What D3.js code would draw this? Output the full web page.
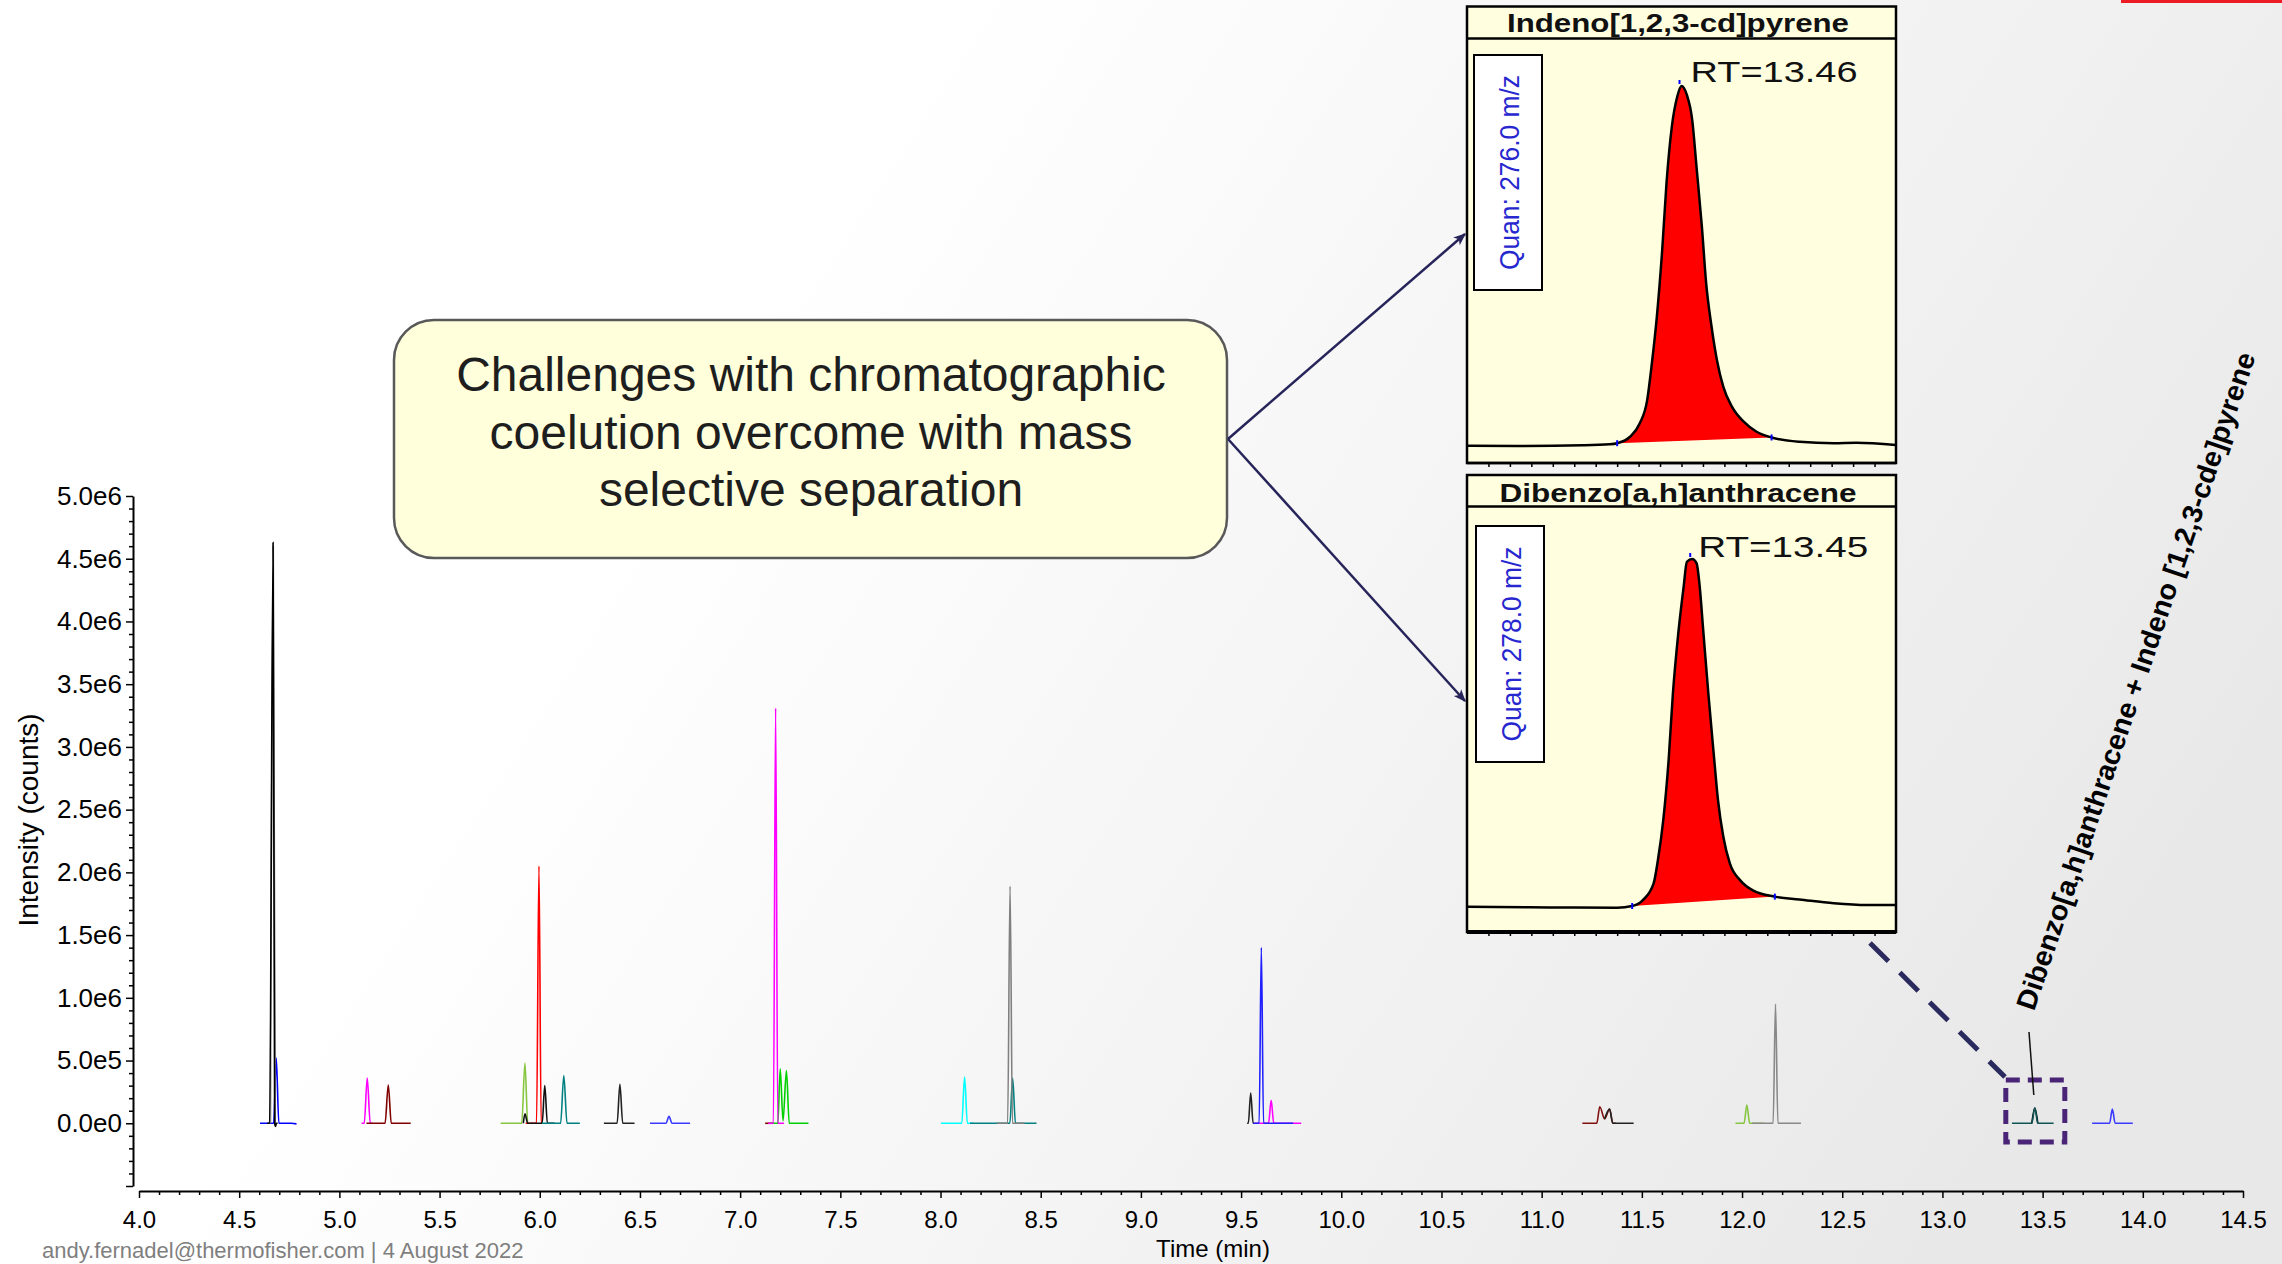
<!DOCTYPE html>
<html>
<head>
<meta charset="utf-8">
<script src="https://cdn.jsdelivr.net/npm/d3@7"></script>
<style>
  html, body { margin: 0; padding: 0; background: #fff; }
  svg { display: block; }
  text { font-family: "Liberation Sans", Arial, sans-serif; }
</style>
</head>
<body>
<script>
// ---- axis ticks ----
var xMajorTicks = [4.0, 4.5, 5.0, 5.5, 6.0, 6.5, 7.0, 7.5, 8.0, 8.5, 9.0, 9.5, 10.0, 10.5, 11.0, 11.5, 12.0, 12.5, 13.0, 13.5, 14.0, 14.5];
var yMajorTicks = [-0.5e6, 0, 0.5e6, 1.0e6, 1.5e6, 2.0e6, 2.5e6, 3.0e6, 3.5e6, 4.0e6, 4.5e6, 5.0e6];

// ---- main chromatogram traces: [time (min), intensity (counts)] ----
var blackA   = [[4.640, 0], [4.652, 0], [4.669, 4.63e6], [4.677, 0], [4.681, -2.5e4], [4.686, 0], [4.692, 0]];
var grayA    = [[4.656, 0], [4.670, 4.60e6], [4.680, 0]];
var blueA    = [[4.604, 0], [4.672, 0], [4.685, 5.2e5], [4.698, 0], [4.760, 0], [4.786, -5e3]];
var magentaA = [[5.111, 0], [5.124, 0], [5.139, 3.6e5], [5.154, 0], [5.165, 0]];
var darkredA = [[5.135, 0], [5.228, 0], [5.244, 3.05e5], [5.259, 0], [5.356, 0]];
var limeA    = [[5.805, 0], [5.910, 0], [5.926, 4.8e5], [5.940, 0], [5.945, 0]];
var blackB   = [[5.918, 0], [5.926, 7.5e4], [5.940, 0], [6.012, 0], [6.025, 3.0e5], [6.038, 0], [6.074, 0]];
var redA     = [[5.930, 0], [5.984, 0], [5.996, 2.05e6], [6.007, 0], [6.011, 0]];
var tealA    = [[6.011, 0], [6.104, 0], [6.120, 3.8e5], [6.136, 0], [6.200, 0]];
var blackC   = [[6.320, 0], [6.386, 0], [6.400, 3.1e5], [6.414, 0], [6.473, 0]];
var blueB    = [[6.550, 0], [6.630, 0], [6.645, 5.5e4], [6.660, 0], [6.750, 0]];
var darkredB = [[7.125, 0], [7.165, 0]];
var magentaB = [[7.140, 0], [7.166, 0], [7.177, 3.31e6], [7.188, 0], [7.219, 0]];
var greenA   = [[7.150, 0], [7.188, 0], [7.200, 4.35e5], [7.214, 2e4], [7.231, 4.2e5], [7.245, 0], [7.341, 0]];
var cyanA    = [[8.002, 0], [8.106, 0], [8.120, 3.68e5], [8.134, 0], [8.164, 0]];
var tealB    = [[8.147, 0], [8.346, 0], [8.360, 3.58e5], [8.374, 0], [8.479, 0]];
var grayB    = [[8.280, 0], [8.335, 0], [8.347, 1.89e6], [8.359, 0], [8.420, 0]];
var blackD   = [[9.530, 0], [9.536, 0], [9.548, 2.4e5], [9.560, 0], [9.566, 0]];
var blueC    = [[9.560, 0], [9.590, 0], [9.601, 1.40e6], [9.612, 0], [9.760, 0]];
var magentaC = [[9.570, 0], [9.637, 0], [9.650, 1.84e5], [9.663, 0], [9.800, 0]];
var darkredC = [[11.203, 0], [11.275, 0], [11.290, 1.32e5], [11.314, 3.5e4], [11.339, 1.13e5], [11.355, 0], [11.370, 0]];
var blackE   = [[11.314, 3.5e4], [11.339, 1.13e5], [11.355, 0], [11.459, 0]];
var limeB    = [[11.967, 0], [12.010, 0], [12.024, 1.45e5], [12.038, 0], [12.110, 0]];
var grayC    = [[12.050, 0], [12.155, 0], [12.167, 9.5e5], [12.179, 0], [12.294, 0]];
var slateA   = [[13.347, 0], [13.446, 0], [13.461, 1.21e5], [13.476, 0], [13.555, 0]];
var blackF   = [[13.446, 0], [13.461, 1.21e5], [13.476, 0]];
var blueD    = [[13.747, 0], [13.834, 0], [13.848, 1.13e5], [13.862, 0], [13.950, 0]];

// ---- inset traces: [time (min), relative abundance (%)] ----
var indenoTrace = [[13.260, -0.2], [13.306, -0.3], [13.368, -0.1], [13.393, 0.2], [13.400, 0.5], [13.412, 2.3], [13.421, 6.0],
  [13.428, 12.5], [13.432, 21.8], [13.437, 35.7], [13.442, 54.3], [13.446, 72.9], [13.451, 88.7], [13.456, 97.0], [13.460, 100],
  [13.465, 97.5], [13.470, 90.5], [13.474, 77.5], [13.479, 60.8], [13.483, 45.0], [13.488, 33.0], [13.493, 23.7], [13.499, 16.2],
  [13.507, 10.7], [13.518, 6.5], [13.530, 3.7], [13.544, 2.1], [13.570, 0.9], [13.602, 0.5], [13.623, 0.6], [13.660, 0]];
var indenoLimits = [13.400, 13.544];
var dibenzoTrace = [[13.240, 0], [13.317, -0.2], [13.380, -0.3], [13.394, 0.2], [13.404, 1.9], [13.414, 6.7], [13.418, 13.4],
  [13.423, 24.9], [13.428, 42.2], [13.432, 61.4], [13.437, 78.6], [13.442, 92.0], [13.445, 99.2], [13.450, 100], [13.454, 98.8],
  [13.457, 92.0], [13.460, 80.5], [13.465, 61.4], [13.470, 44.1], [13.474, 30.7], [13.479, 20.1], [13.485, 12.5], [13.495, 7.5],
  [13.507, 4.6], [13.527, 2.9], [13.550, 2.1], [13.582, 1.0], [13.613, 0.5], [13.640, 0.5]];
var dibenzoLimits = [13.394, 13.527];

var traces = [
  { d: blueA, c: '#0000ff' }, { d: grayA, c: '#7f7f7f' }, { d: blackA, c: '#000000' },
  { d: magentaA, c: '#ff00ff' }, { d: darkredA, c: '#800000' },
  { d: limeA, c: '#86c640' }, { d: redA, c: '#ff0000' }, { d: blackB, c: '#111111' },
  { d: tealA, c: '#008080' }, { d: blackC, c: '#222222' }, { d: blueB, c: '#3b3bff' },
  { d: darkredB, c: '#800000' }, { d: greenA, c: '#00d000' }, { d: magentaB, c: '#ff00ff' },
  { d: cyanA, c: '#00ffff' }, { d: tealB, c: '#008080' }, { d: grayB, c: '#808080' },
  { d: blackD, c: '#222222' }, { d: magentaC, c: '#ff00ff' }, { d: blueC, c: '#2020ff' },
  { d: darkredC, c: '#801010' }, { d: blackE, c: '#222222' },
  { d: limeB, c: '#86c640' }, { d: grayC, c: '#888888' },
  { d: blackF, c: '#000000' }, { d: slateA, c: '#0f5555' }, { d: blueD, c: '#3b3bff' }
];

var W = 2282, H = 1264;
var svg = d3.select('body').append('svg').attr('width', W).attr('height', H);
var defs = svg.append('defs');

var grad = defs.append('linearGradient').attr('id', 'bg')
  .attr('x1', 0.3).attr('y1', 0.35).attr('x2', 1).attr('y2', 0.6);
grad.append('stop').attr('offset', 0).attr('stop-color', '#ffffff');
grad.append('stop').attr('offset', 1).attr('stop-color', '#e8e8e8');
svg.append('rect').attr('width', W).attr('height', H).attr('fill', 'url(#bg)');

defs.append('marker').attr('id', 'arrow').attr('viewBox', '0 0 10 10')
  .attr('refX', 9).attr('refY', 5).attr('markerWidth', 5).attr('markerHeight', 5)
  .attr('markerUnits', 'strokeWidth').attr('orient', 'auto')
  .append('path').attr('d', 'M0,1 L10,5 L0,9 L2.5,5 Z').attr('fill', '#27245a');

// red bar at top right
svg.append('rect').attr('x', 2121).attr('y', 0).attr('width', 161).attr('height', 3).attr('fill', '#ed1c24');

// ---- main chart ----
var x = d3.scaleLinear().domain([4.0, 14.5]).range([139, 2243]);
var y = d3.scaleLinear().domain([-0.5e6, 5.0e6]).range([1186, 496]);

var yFmt = function (d) { return d < 0 ? '' : d3.format('.1e')(d).replace('+', ''); };

var yMinor = d3.range(-5, 51).map(function (k) { return k * 1e5; })
  .filter(function (v) { return yMajorTicks.indexOf(v) < 0; });
var xMinor = d3.range(40, 146).map(function (k) { return k / 10; })
  .filter(function (v) { return Math.abs(v * 2 - Math.round(v * 2)) > 1e-6; });

var yAx = svg.append('g').attr('transform', 'translate(133,0)')
  .call(d3.axisLeft(y).tickValues(yMajorTicks).tickFormat(yFmt).tickSize(7).tickSizeOuter(0).tickPadding(4));
svg.append('g').attr('transform', 'translate(133,0)')
  .call(d3.axisLeft(y).tickValues(yMinor).tickFormat('').tickSize(4).tickSizeOuter(0))
  .select('.domain').remove();
yAx.selectAll('text').attr('font-size', 26).attr('fill', '#000');
yAx.select('.domain').attr('stroke-width', 2);

var xAx = svg.append('g').attr('transform', 'translate(0,1191)')
  .call(d3.axisBottom(x).tickValues(xMajorTicks).tickFormat(d3.format('.1f')).tickSize(7).tickSizeOuter(0).tickPadding(13));
svg.append('g').attr('transform', 'translate(0,1191)')
  .call(d3.axisBottom(x).tickValues(xMinor).tickFormat('').tickSize(4).tickSizeOuter(0))
  .select('.domain').remove();
xAx.selectAll('text').attr('font-size', 24).attr('fill', '#000');
xAx.select('.domain').attr('stroke-width', 2);
svg.selectAll('.tick line').attr('stroke-width', 1.5);

svg.append('text').attr('transform', 'translate(38,820) rotate(-90)')
  .attr('text-anchor', 'middle').attr('font-size', 28).text('Intensity (counts)');
svg.append('text').attr('x', 1213).attr('y', 1257)
  .attr('text-anchor', 'middle').attr('font-size', 24).text('Time (min)');

var line = d3.line().x(function (d) { return x(d[0]); }).y(function (d) { return y(d[1]); })
  .curve(d3.curveMonotoneX);
svg.append('g').selectAll('path').data(traces).enter().append('path')
  .attr('d', function (t) { return line(t.d); })
  .attr('fill', 'none').attr('stroke', function (t) { return t.c; })
  .attr('stroke-width', 1.6).attr('stroke-linejoin', 'round');

// footer
svg.append('text').attr('x', 42).attr('y', 1258).attr('font-size', 22).attr('fill', '#7f7f7f')
  .text('andy.fernadel@thermofisher.com | 4 August 2022');

// ---- callout ----
svg.append('rect').attr('x', 394).attr('y', 320).attr('width', 833).attr('height', 238)
  .attr('rx', 40).attr('ry', 40).attr('fill', '#ffffdc').attr('stroke', '#595959').attr('stroke-width', 2.5);
var callLines = ['Challenges with chromatographic', 'coelution overcome with mass', 'selective separation'];
svg.append('g').selectAll('text').data(callLines).enter().append('text')
  .attr('x', 811).attr('y', function (d, i) { return 391 + i * 57.5; })
  .attr('text-anchor', 'middle').attr('font-size', 48).attr('fill', '#1e1e1e').text(function (d) { return d; });

svg.append('line').attr('x1', 1228).attr('y1', 439).attr('x2', 1465).attr('y2', 234)
  .attr('stroke', '#27245a').attr('stroke-width', 2.5).attr('marker-end', 'url(#arrow)');
svg.append('line').attr('x1', 1228).attr('y1', 439).attr('x2', 1465).attr('y2', 701)
  .attr('stroke', '#27245a').attr('stroke-width', 2.5).attr('marker-end', 'url(#arrow)');

// ---- inset panels ----
function drawPanel(p) {
  var g = svg.append('g');
  var px = d3.scaleLinear().domain(p.domain).range([1467, 1896]);
  var py = d3.scaleLinear().domain([0, 100]).range([p.base, p.apex]);
  var top = p.top, bottom = p.bottom;

  g.append('rect').attr('x', 1467).attr('y', top).attr('width', 429).attr('height', bottom - top)
    .attr('fill', '#ffffe0');
  var clipId = 'clip' + p.id;
  defs.append('clipPath').attr('id', clipId).append('rect')
    .attr('x', 1467).attr('y', p.titleLine).attr('width', 429).attr('height', bottom - p.titleLine);

  var pl = d3.line().x(function (d) { return px(d[0]); }).y(function (d) { return py(d[1]); })
    .curve(d3.curveMonotoneX);
  var inside = p.trace.filter(function (d) { return d[0] >= p.limits[0] && d[0] <= p.limits[1]; });
  var cg = g.append('g').attr('clip-path', 'url(#' + clipId + ')');
  cg.append('path').attr('d', pl(inside) + 'Z').attr('fill', '#ff0000');
  cg.append('path').attr('d', pl(p.trace)).attr('fill', 'none').attr('stroke', '#000').attr('stroke-width', 2.5);

  // peak markers
  var s = p.trace.filter(function (d) { return d[0] === p.limits[0]; })[0];
  var e = p.trace.filter(function (d) { return d[0] === p.limits[1]; })[0];
  var a = p.trace.filter(function (d) { return d[1] === 100; })[0];
  [s, e].forEach(function (d) {
    g.append('line').attr('x1', px(d[0])).attr('x2', px(d[0]))
      .attr('y1', py(d[1]) - 3).attr('y2', py(d[1]) + 3).attr('stroke', '#0000ff').attr('stroke-width', 2);
  });
  g.append('line').attr('x1', px(a[0]) - 2).attr('x2', px(a[0]) - 2)
    .attr('y1', py(a[1]) - 6).attr('y2', py(a[1]) - 2).attr('stroke', '#0000ff').attr('stroke-width', 2);

  g.append('text').attr('x', px(a[0]) + p.rtDx).attr('y', py(a[1]) - p.rtDy)
    .attr('font-size', 30).attr('fill', '#111').attr('textLength', p.rtLen).attr('lengthAdjust', 'spacingAndGlyphs')
    .text(p.rt);

  // quan box
  g.append('rect').attr('x', p.quan[0]).attr('y', p.quan[1]).attr('width', p.quan[2]).attr('height', p.quan[3])
    .attr('fill', '#fff').attr('stroke', '#000').attr('stroke-width', 2);
  g.append('text')
    .attr('transform', 'translate(' + (p.quan[0] + p.quan[2] / 2 + 1) + ',' + (p.quan[1] + p.quan[3] / 2) + ') rotate(-90)')
    .attr('text-anchor', 'middle').attr('dominant-baseline', 'central')
    .attr('font-size', 28).attr('fill', '#2727cf').attr('textLength', 195).attr('lengthAdjust', 'spacingAndGlyphs')
    .text(p.quanText);

  // frame
  g.append('rect').attr('x', 1467).attr('y', top).attr('width', 429).attr('height', bottom - top)
    .attr('fill', 'none').attr('stroke', '#000').attr('stroke-width', 2.5);
  g.append('line').attr('x1', 1467).attr('x2', 1896).attr('y1', p.titleLine).attr('y2', p.titleLine)
    .attr('stroke', '#000').attr('stroke-width', 2.5);
  g.append('line').attr('x1', 1467).attr('x2', 1896).attr('y1', bottom).attr('y2', bottom)
    .attr('stroke', '#000').attr('stroke-width', p.bottomW);
  g.append('text').attr('x', 1678).attr('y', p.titleBase).attr('text-anchor', 'middle')
    .attr('font-family', '"DejaVu Sans", Verdana, sans-serif').attr('font-weight', 'bold')
    .attr('font-size', 25).attr('fill', '#111').attr('textLength', p.titleLen).attr('lengthAdjust', 'spacingAndGlyphs')
    .text(p.title);

  var tk = d3.range(1, 20).map(function (k) { return p.domain[0] + k * 0.02; });
  g.append('g').attr('transform', 'translate(0,' + bottom + ')')
    .call(d3.axisBottom(px).tickValues(tk).tickFormat('').tickSize(4).tickSizeOuter(0))
    .call(function (ax) { ax.select('.domain').remove(); ax.selectAll('line').attr('stroke-width', 1.5); });
}

drawPanel({ id: 1, domain: [13.26, 13.66], top: 6.5, bottom: 463, titleLine: 38.5, titleBase: 32, base: 445, apex: 86,
  trace: indenoTrace, limits: indenoLimits, title: 'Indeno[1,2,3-cd]pyrene', titleLen: 342,
  rt: 'RT=13.46', rtDx: 9, rtDy: 4, rtLen: 167, quan: [1474, 55, 68, 235], quanText: 'Quan: 276.0 m/z', bottomW: 2.5 });
drawPanel({ id: 2, domain: [13.24, 13.64], top: 475, bottom: 932, titleLine: 506.5, titleBase: 501.5, base: 906.7, apex: 559,
  trace: dibenzoTrace, limits: dibenzoLimits, title: 'Dibenzo[a,h]anthracene', titleLen: 357,
  rt: 'RT=13.45', rtDx: 6, rtDy: 2, rtLen: 170, quan: [1476, 526, 68, 236], quanText: 'Quan: 278.0 m/z', bottomW: 4 });

// ---- zoom marker for the co-eluting pair ----
svg.append('line').attr('x1', 1870).attr('y1', 943).attr('x2', 2005).attr('y2', 1077)
  .attr('stroke', '#2b2a5e').attr('stroke-width', 5).attr('stroke-dasharray', '26 16');
svg.append('rect').attr('x', x(13.461) - 29).attr('y', 1080).attr('width', 59).attr('height', 62)
  .attr('fill', 'none').attr('stroke', '#4a2577').attr('stroke-width', 5).attr('stroke-dasharray', '14 8');
svg.append('line').attr('x1', 2029).attr('y1', 1032).attr('x2', x(13.461) - 1).attr('y2', 1095)
  .attr('stroke', '#111').attr('stroke-width', 1.5);
svg.append('text').attr('transform', 'translate(2136,681) rotate(-71.3)')
  .attr('text-anchor', 'middle').attr('dominant-baseline', 'central')
  .attr('font-size', 28).attr('font-weight', 'bold').attr('fill', '#000')
  .attr('textLength', 692).attr('lengthAdjust', 'spacingAndGlyphs')
  .text('Dibenzo[a,h]anthracene + Indeno [1,2,3-cde]pyrene');
</script>
</body>
</html>
